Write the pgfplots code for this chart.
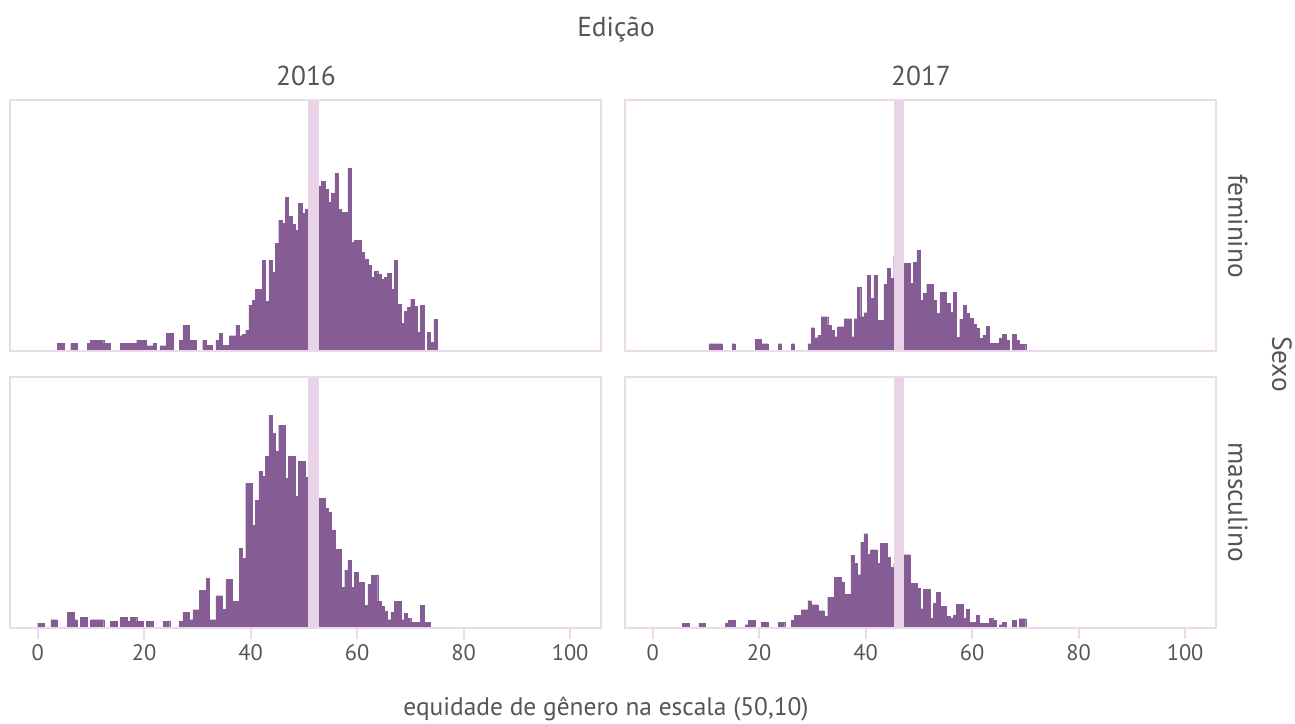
\documentclass[border=0pt]{standalone}
\usepackage{pgfplots}
\pgfplotsset{compat=1.18}
\usepackage{pgfplotstable}
\usepackage{fontspec}
\setmainfont{PT Sans}

\definecolor{barfill}{HTML}{855C94}
\definecolor{meanline}{HTML}{E8D4E6}
\definecolor{frame}{HTML}{EBDAE9}
\definecolor{txt}{HTML}{555555}

% histogram counts per bin (bin width 0.62), x = bin centre
\pgfplotstableread{
x h
4.03 7.7
4.65 7.7
6.51 7.7
7.13 7.7
9.61 7.7
10.23 11
10.85 11
11.47 11
12.09 11
12.71 7.7
13.33 7.7
15.81 7.7
16.43 7.7
17.05 7.7
17.67 7.7
18.29 7.7
18.91 11
19.53 11
20.15 11
20.77 5.3
21.39 5.3
22.01 7.7
23.25 5.3
23.87 5.3
24.49 17.7
25.11 17.7
26.97 11
27.59 26
28.21 26
28.83 11
29.45 11
31.31 11
31.93 6
32.55 6
33.79 11
34.41 17.7
35.03 6
35.65 6
36.27 15.3
36.89 15.3
37.51 26
38.13 15.3
38.75 16.7
39.37 21
39.99 46
40.61 51
41.23 62
41.85 62
42.47 91
43.09 50
43.71 91
44.33 79
44.95 108
45.57 131
46.19 128
46.81 154
47.43 135
48.05 127
48.67 121
49.29 148
49.91 138
50.53 142
51.15 145
51.77 150
52.39 160
53.01 165
53.63 170
54.25 162
54.87 149
55.49 158
56.11 178
56.73 142
57.35 139
57.97 139
58.59 183
59.21 109
59.83 111
60.45 111
61.07 99
61.69 92
62.31 86
62.93 74
63.55 80
64.17 77
64.79 72
65.41 74
66.03 78
66.65 62
67.27 91
67.89 47
68.51 28
69.13 40
69.75 44
70.37 52
70.99 45
71.61 19
72.23 46
73.47 19
74.09 9
74.71 32
}\femA

\pgfplotstableread{
x h
0.31 5
0.93 5
2.79 8.3
3.41 8.3
5.89 15.7
6.51 15.7
7.13 8.3
8.37 11
8.99 11
10.23 8.3
10.85 8.3
11.47 8.3
12.09 8.3
13.95 6.7
14.57 6.7
15.81 11
16.43 11
17.05 6.7
17.67 11
18.29 11
18.91 6.7
19.53 6.7
20.77 6.7
21.39 6.7
23.87 6.7
24.49 6.7
26.97 6.7
27.59 15.7
28.21 15.7
28.83 8.3
29.45 18.3
30.07 18.3
30.69 37.7
31.31 37.7
31.93 50
32.55 8.3
33.17 8.3
33.79 32.3
34.41 32.3
35.03 19
35.65 49
36.27 49
36.89 26.7
37.51 26.7
38.13 80
38.75 70
39.37 145
39.99 145
40.61 103
41.23 128
41.85 157
42.47 152
43.09 172
43.71 213
44.33 195
44.95 177
45.57 203
46.19 203
46.81 150
47.43 172
48.05 172
48.67 132
49.29 167
49.91 167
50.53 151
51.15 150
51.77 140
52.39 135
53.01 130
53.63 130
54.25 120
54.87 116
55.49 98
56.11 79
56.73 79
57.35 41
57.97 58
58.59 68
59.21 41
59.83 56
60.45 46
61.07 46
61.69 23
62.31 44
62.93 53
63.55 53
64.17 27
64.79 22
65.41 17
66.03 8.3
66.65 16
67.27 27
67.89 27
68.51 8.3
69.13 15
69.75 10
70.37 5.7
70.99 5.7
71.61 5.7
72.23 23
72.85 5.7
73.47 5.7
}\mascA

\pgfplotstableread{
x h
10.85 7.3
11.47 7.3
12.09 7.3
12.71 7.3
15.19 7.3
19.53 11.7
20.15 11.7
20.77 7.3
21.39 7.3
23.87 7.3
26.35 7.3
29.45 7.3
30.07 23.3
30.69 13.3
31.31 15.7
31.93 34.3
32.55 34.3
33.17 25.7
33.79 20.7
34.41 14.3
35.03 24.3
35.65 24.3
36.27 32.3
36.89 32.3
37.51 14.3
38.13 32.3
38.75 64
39.37 34.3
39.99 38.3
40.61 76
41.23 52.7
41.85 76
42.47 31
43.09 31
43.71 67
44.33 83
44.95 73
45.57 95
46.19 90
46.81 88
47.43 88
48.05 88
48.67 68
49.29 89
49.91 101
50.53 51
51.15 58
51.77 67
52.39 67
53.01 51
53.63 38
54.25 59
54.87 59
55.49 48
56.11 39
56.73 59
57.35 14
57.97 32
58.59 46
59.21 38
59.83 33
60.45 27
61.07 23
61.69 13
62.31 16
62.93 25
63.55 7.7
64.17 7.7
64.79 7.7
65.41 13
66.03 17
66.65 11
67.89 17
68.51 11
69.13 7
69.75 7
}\femB

\pgfplotstableread{
x h
5.89 5
6.51 5
8.99 5
9.61 5
13.95 5
14.57 7.7
15.19 7.7
17.67 3.3
18.29 7.7
18.91 7.7
20.77 6
21.39 6
23.87 6
24.49 6
26.35 7.7
26.97 12.7
27.59 12.7
28.21 18.3
28.83 18.3
29.45 27.3
30.07 23.3
30.69 23.3
31.31 17.3
31.93 17.3
32.55 11.7
33.17 30.7
33.79 30.7
34.41 50.7
35.03 50.7
35.65 45.7
36.27 34
36.89 34
37.51 72.7
38.13 65
38.75 53.3
39.37 86
39.99 94.3
40.61 74
41.23 78.3
41.85 78.3
42.47 65
43.09 85
43.71 85
44.33 70.7
44.95 60.7
45.57 65
46.19 70
46.81 72
47.43 73.3
48.05 73.3
48.67 45
49.29 45
49.91 40
50.53 19.3
51.15 39
51.77 39
52.39 10
53.01 25
53.63 36
54.25 21.7
54.87 21.7
55.49 11.7
56.11 10
56.73 12.7
57.35 24
57.97 24
58.59 10
59.21 19
59.83 6
60.45 6
61.07 12.7
61.69 5
62.31 5
62.93 5
63.55 10
64.17 7.7
65.41 3.3
66.03 6
67.89 7.7
69.13 9.3
69.75 9.3
}\mascB

\pgfplotsset{
  panel/.style={
    scale only axis, width=591bp, height=251bp,
    xmin=-5.2, xmax=105.8, ymin=0, ymax=251,
    axis on top,
    axis line style={draw=frame, line width=2.6bp},
    ytick=\empty,
  },
  toprow/.style={xtick=\empty},
  bottomrow/.style={
    xtick={0,20,40,60,80,100},
    xtick pos=bottom, tick align=outside,
    major tick length=11bp,
    tick style={draw=frame, line width=2bp},
    /pgf/number format/assume math mode=true,
    xticklabel style={text=txt, font=\fontsize{22.5}{22.5}\selectfont, yshift=-2bp},
  },
  hist/.style={ybar, bar width=0.62, fill=barfill, draw=barfill, line width=0.3bp},
  mean/.style={meanline, line width=10.7bp, line cap=butt, forget plot},
}

\begin{document}
\begin{tikzpicture}
\path[use as bounding box] (0bp,0bp) rectangle (1295bp,-724bp);

\begin{axis}[panel, toprow, at={(10bp,-351bp)}, anchor=south west]
  \addplot[hist] table[x=x, y=h] {\femA};
  \addplot[mean] coordinates {(51.82,0) (51.82,251)};
\end{axis}

\begin{axis}[panel, toprow, at={(625bp,-351bp)}, anchor=south west]
  \addplot[hist] table[x=x, y=h] {\femB};
  \addplot[mean] coordinates {(46.28,0) (46.28,251)};
\end{axis}

\begin{axis}[panel, bottomrow, at={(10bp,-628bp)}, anchor=south west]
  \addplot[hist] table[x=x, y=h] {\mascA};
  \addplot[mean] coordinates {(51.82,0) (51.82,251)};
\end{axis}

\begin{axis}[panel, bottomrow, at={(625bp,-628bp)}, anchor=south west]
  \addplot[hist] table[x=x, y=h] {\mascB};
  \addplot[mean] coordinates {(46.28,0) (46.28,251)};
\end{axis}

\begin{scope}[every node/.style={text=txt, inner sep=0pt}]
  \node[font=\fontsize{27.5}{27.5}\selectfont] at (616bp,-30bp) {Edição};
  \node[font=\fontsize{27.5}{27.5}\selectfont] at (306bp,-76bp) {2016};
  \node[font=\fontsize{27.5}{27.5}\selectfont] at (921bp,-76bp) {2017};
  \node[font=\fontsize{27.5}{27.5}\selectfont, rotate=-90] at (1238bp,-226bp) {feminino};
  \node[font=\fontsize{27.5}{27.5}\selectfont, rotate=-90] at (1238bp,-502bp) {masculino};
  \node[font=\fontsize{27.5}{27.5}\selectfont, rotate=-90] at (1282bp,-364bp) {Sexo};
  \node[font=\fontsize{25.5}{25.5}\selectfont] at (606bp,-709bp) {equidade de gênero na escala (50,10)};
\end{scope}
\end{tikzpicture}
\end{document}
